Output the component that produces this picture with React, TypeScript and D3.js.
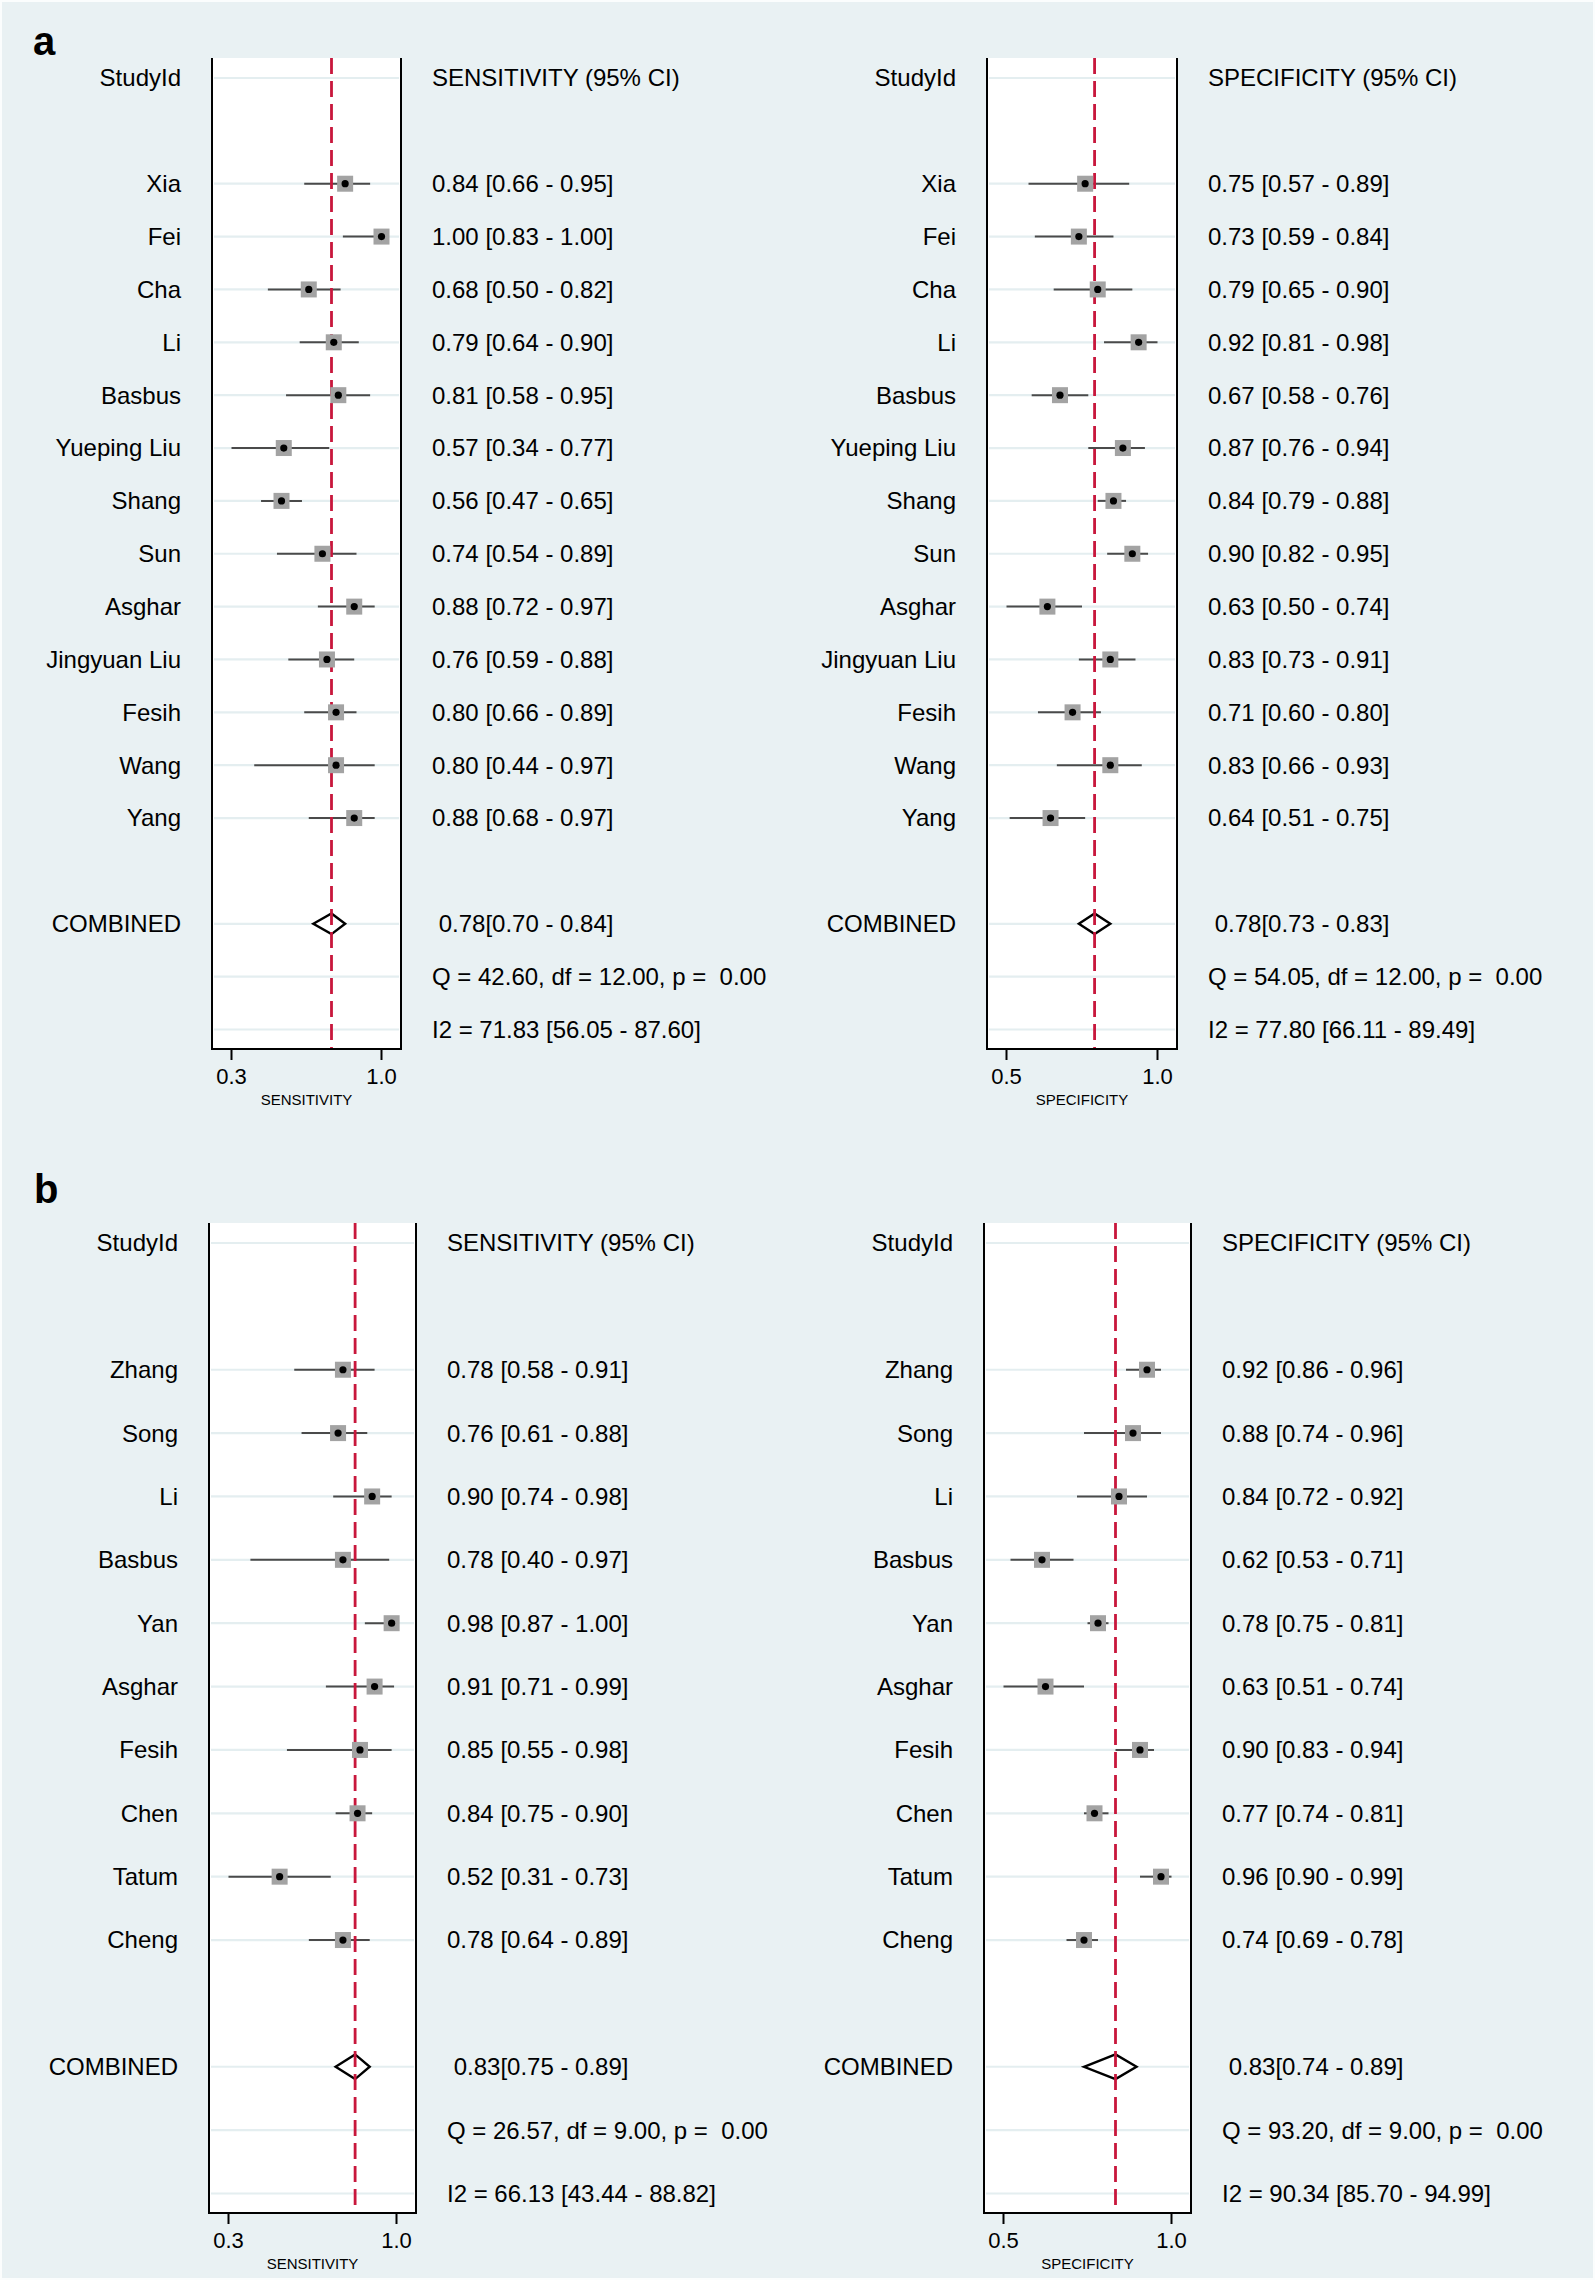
import React from 'react';
import * as d3 from 'd3';

const W = 1595;
const H = 2280;
const FONT = '"Liberation Sans", Arial, Helvetica, sans-serif';

// ---- panel a ----
const studiesA = ['Xia', 'Fei', 'Cha', 'Li', 'Basbus', 'Yueping Liu', 'Shang', 'Sun', 'Asghar', 'Jingyuan Liu', 'Fesih', 'Wang', 'Yang'];
const sensA = [0.84, 1.00, 0.68, 0.79, 0.81, 0.57, 0.56, 0.74, 0.88, 0.76, 0.80, 0.80, 0.88];
const sensLoA = [0.66, 0.83, 0.50, 0.64, 0.58, 0.34, 0.47, 0.54, 0.72, 0.59, 0.66, 0.44, 0.68];
const sensHiA = [0.95, 1.00, 0.82, 0.90, 0.95, 0.77, 0.65, 0.89, 0.97, 0.88, 0.89, 0.97, 0.97];
const specA = [0.75, 0.73, 0.79, 0.92, 0.67, 0.87, 0.84, 0.90, 0.63, 0.83, 0.71, 0.83, 0.64];
const specLoA = [0.57, 0.59, 0.65, 0.81, 0.58, 0.76, 0.79, 0.82, 0.50, 0.73, 0.60, 0.66, 0.51];
const specHiA = [0.89, 0.84, 0.90, 0.98, 0.76, 0.94, 0.88, 0.95, 0.74, 0.91, 0.80, 0.93, 0.75];
const pooledSensA = [0.78, 0.70, 0.84];
const pooledSpecA = [0.78, 0.73, 0.83];
const qSensA = 'Q = 42.60, df = 12.00, p =  0.00';
const qSpecA = 'Q = 54.05, df = 12.00, p =  0.00';
const i2SensA = 'I2 = 71.83 [56.05 - 87.60]';
const i2SpecA = 'I2 = 77.80 [66.11 - 89.49]';

// ---- panel b ----
const studiesB = ['Zhang', 'Song', 'Li', 'Basbus', 'Yan', 'Asghar', 'Fesih', 'Chen', 'Tatum', 'Cheng'];
const sensB = [0.78, 0.76, 0.90, 0.78, 0.98, 0.91, 0.85, 0.84, 0.52, 0.78];
const sensLoB = [0.58, 0.61, 0.74, 0.40, 0.87, 0.71, 0.55, 0.75, 0.31, 0.64];
const sensHiB = [0.91, 0.88, 0.98, 0.97, 1.00, 0.99, 0.98, 0.90, 0.73, 0.89];
const specB = [0.92, 0.88, 0.84, 0.62, 0.78, 0.63, 0.90, 0.77, 0.96, 0.74];
const specLoB = [0.86, 0.74, 0.72, 0.53, 0.75, 0.51, 0.83, 0.74, 0.90, 0.69];
const specHiB = [0.96, 0.96, 0.92, 0.71, 0.81, 0.74, 0.94, 0.81, 0.99, 0.78];
const pooledSensB = [0.83, 0.75, 0.89];
const pooledSpecB = [0.83, 0.74, 0.89];
const qSensB = 'Q = 26.57, df = 9.00, p =  0.00';
const qSpecB = 'Q = 93.20, df = 9.00, p =  0.00';
const i2SensB = 'I2 = 66.13 [43.44 - 88.82]';
const i2SpecB = 'I2 = 90.34 [85.70 - 94.99]';

const f2 = d3.format('.2f');
const f1 = d3.format('.1f');

type PlotProps = {
  names: string[];
  est: number[];
  lo: number[];
  hi: number[];
  pooled: number[];
  qText: string;
  i2Text: string;
  measure: string;
  x0: number;
  x1: number;
  top: number;
  bottom: number;
};

function Forest({ names, est, lo, hi, pooled, qText, i2Text, measure, x0, x1, top, bottom }: PlotProps) {
  const n = names.length;
  // rows: header, blank, studies..., blank, combined, Q, I2
  const nRows = n + 6;
  const y = d3.scaleLinear().domain([0, nRows - 1]).range([top + 20, bottom - 19.5]);
  const step = y(1) - y(0);
  const dMin = d3.min(lo) as number;
  const dMax = d3.max(hi) as number;
  const x = d3.scaleLinear().domain([dMin, dMax]).range([x0 + 19.5, x1 - 19.5]);
  const rowStudy = (i: number) => y(i + 2);
  const rowComb = y(n + 3);
  const rowQ = y(n + 4);
  const rowI2 = y(n + 5);
  const gridRows = [y(0), ...names.map((_, i) => rowStudy(i)), rowComb, rowQ, rowI2];
  const labX = x0 - 31;
  const txtX = x1 + 31;
  const dh = step * 0.195;
  const sq = 16;
  const [pe, pl, ph] = pooled;
  const diamond = `M${x(pl)},${rowComb} L${x(pe)},${rowComb - dh} L${x(ph)},${rowComb} L${x(pe)},${rowComb + dh} Z`;
  const textStyle = { whiteSpace: 'pre' as const };

  return (
    <g fontFamily={FONT} fill="#000">
      <rect x={x0} y={top} width={x1 - x0} height={bottom - top} fill="#fff" />
      {gridRows.map((gy, i) => (
        <line key={'g' + i} x1={x0 + 2} x2={x1 - 2} y1={gy} y2={gy} stroke="#e4eef0" strokeWidth={2.2} />
      ))}
      <path d={diamond} fill="#fff" stroke="#000" strokeWidth={2.4} strokeLinejoin="miter" />
      {names.map((_, i) => (
        <line key={'ci' + i} x1={x(lo[i])} x2={x(hi[i])} y1={rowStudy(i)} y2={rowStudy(i)} stroke="#4a4a4a" strokeWidth={2} />
      ))}
      <line x1={x(pe)} x2={x(pe)} y1={top} y2={bottom} stroke="#c8173c" strokeWidth={2.8} strokeDasharray="16 7" />
      {names.map((_, i) => (
        <g key={'m' + i}>
          <rect x={x(est[i]) - sq / 2} y={rowStudy(i) - sq / 2} width={sq} height={sq} fill="#a3a3a3" />
          <circle cx={x(est[i])} cy={rowStudy(i)} r={3.6} fill="#000" />
        </g>
      ))}
      {/* frame */}
      <line x1={x0} x2={x0} y1={top} y2={bottom} stroke="#000" strokeWidth={2} />
      <line x1={x1} x2={x1} y1={top} y2={bottom} stroke="#000" strokeWidth={2} />
      <line x1={x0 - 1} x2={x1 + 1} y1={bottom} y2={bottom} stroke="#000" strokeWidth={2} />
      {[dMin, dMax].map((t, i) => (
        <g key={'t' + i}>
          <line x1={x(t)} x2={x(t)} y1={bottom} y2={bottom + 11} stroke="#000" strokeWidth={2} />
          <text x={x(t)} y={bottom + 34.5} fontSize={22} textAnchor="middle">{f1(t)}</text>
        </g>
      ))}
      <text x={(x0 + x1) / 2} y={bottom + 56} fontSize={15} textAnchor="middle">{measure}</text>
      {/* left labels */}
      <text x={labX} y={y(0)} dy="0.35em" fontSize={24} textAnchor="end">StudyId</text>
      {names.map((nm, i) => (
        <text key={'n' + i} x={labX} y={rowStudy(i)} dy="0.35em" fontSize={24} textAnchor="end">{nm}</text>
      ))}
      <text x={labX} y={rowComb} dy="0.35em" fontSize={24} textAnchor="end">COMBINED</text>
      {/* right estimates */}
      <text x={txtX} y={y(0)} dy="0.35em" fontSize={24}>{`${measure} (95% CI)`}</text>
      {names.map((_, i) => (
        <text key={'v' + i} x={txtX} y={rowStudy(i)} dy="0.35em" fontSize={24} style={textStyle}>
          {`${f2(est[i])} [${f2(lo[i])} - ${f2(hi[i])}]`}
        </text>
      ))}
      <text x={txtX} y={rowComb} dy="0.35em" fontSize={24} style={textStyle}>{` ${f2(pe)}[${f2(pl)} - ${f2(ph)}]`}</text>
      <text x={txtX} y={rowQ} dy="0.35em" fontSize={24} style={textStyle}>{qText}</text>
      <text x={txtX} y={rowI2} dy="0.35em" fontSize={24} style={textStyle}>{i2Text}</text>
    </g>
  );
}

export default function App() {
  return (
    <svg width={W} height={H} style={{ position: 'absolute', left: 0, top: 0, display: 'block' }}>
      <rect x={0} y={0} width={W} height={H} fill="#fbfdfd" />
      <rect x={2} y={2} width={W - 4} height={H - 4} fill="#e9f1f3" />
      <text x={33} y={55} fontFamily={FONT} fontWeight="bold" fontSize={40}>a</text>
      <text x={34} y={1203} fontFamily={FONT} fontWeight="bold" fontSize={40}>b</text>

      <Forest names={studiesA} est={sensA} lo={sensLoA} hi={sensHiA} pooled={pooledSensA}
        qText={qSensA} i2Text={i2SensA} measure="SENSITIVITY" x0={212} x1={401} top={58} bottom={1049} />
      <Forest names={studiesA} est={specA} lo={specLoA} hi={specHiA} pooled={pooledSpecA}
        qText={qSpecA} i2Text={i2SpecA} measure="SPECIFICITY" x0={987} x1={1177} top={58} bottom={1049} />

      <Forest names={studiesB} est={sensB} lo={sensLoB} hi={sensHiB} pooled={pooledSensB}
        qText={qSensB} i2Text={i2SensB} measure="SENSITIVITY" x0={209} x1={416} top={1223} bottom={2213} />
      <Forest names={studiesB} est={specB} lo={specLoB} hi={specHiB} pooled={pooledSpecB}
        qText={qSpecB} i2Text={i2SpecB} measure="SPECIFICITY" x0={984} x1={1191} top={1223} bottom={2213} />
    </svg>
  );
}
